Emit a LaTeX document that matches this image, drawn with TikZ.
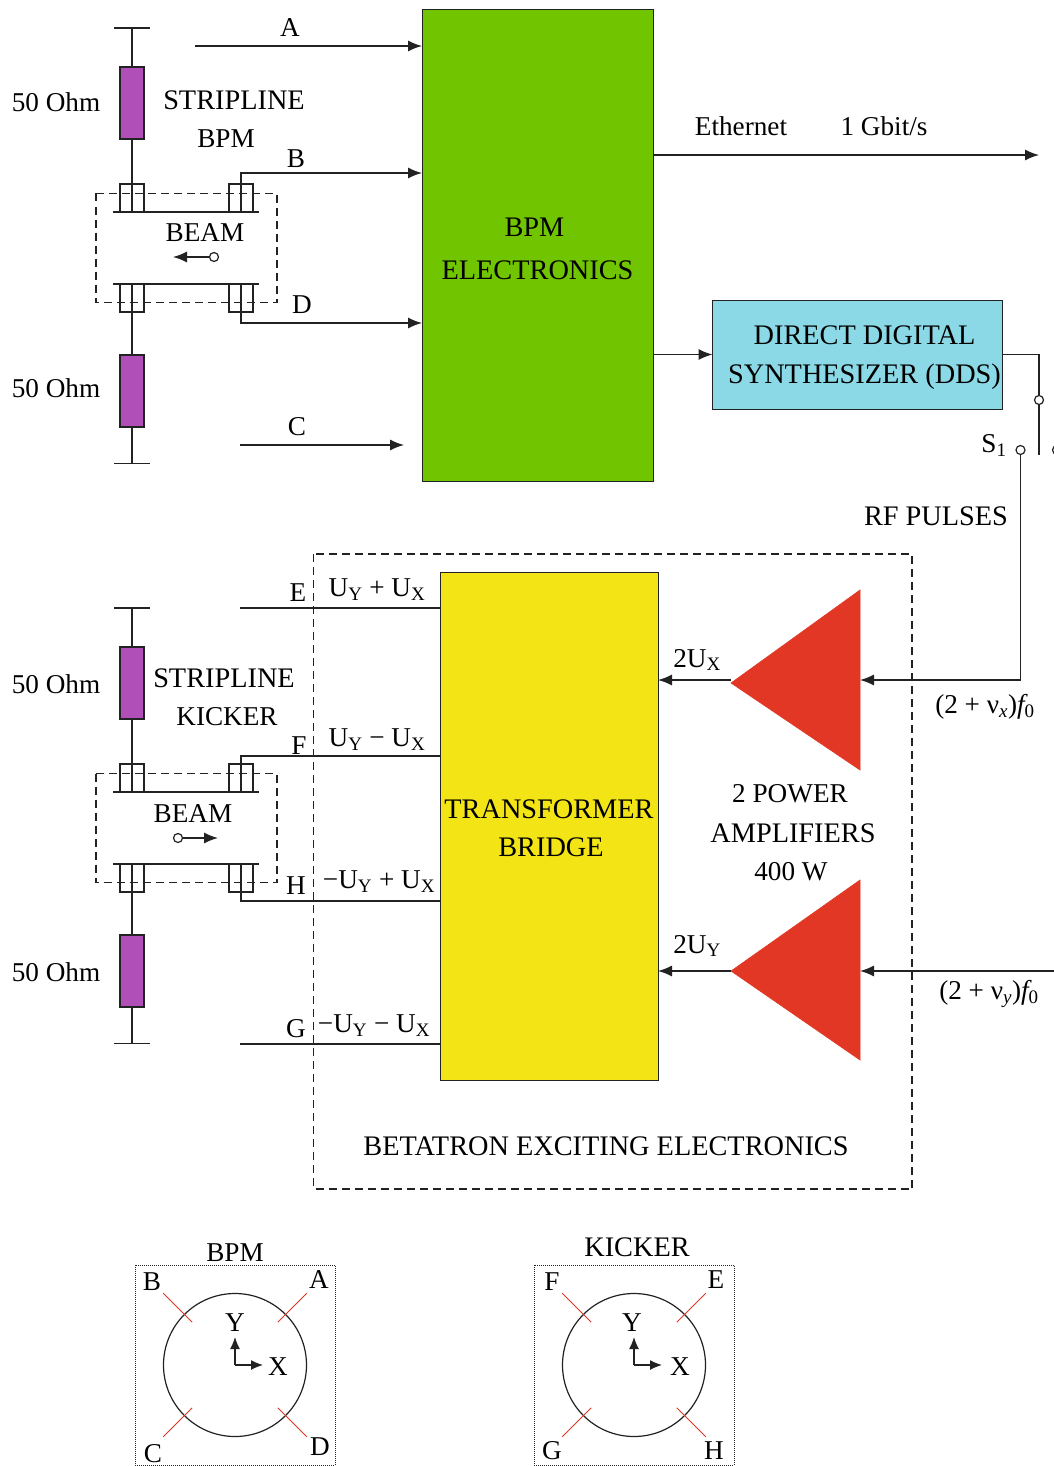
\documentclass[tikz,border=0pt]{standalone}
\usepackage{fontspec}
\setmainfont{Liberation Serif}
\usepackage{tikz}
\usetikzlibrary{arrows.meta}

\definecolor{bpmgreen}{HTML}{70C400}
\definecolor{ddscyan}{HTML}{8BD9E6}
\definecolor{bridgeyellow}{HTML}{F2E415}
\definecolor{ampred}{HTML}{E23724}
\definecolor{respurple}{HTML}{B04FB8}
\definecolor{linegray}{HTML}{222222}

\newcommand{\lift}[1]{\rule{0pt}{#1pt}}
\newcommand{\capsize}{\fontsize{28.3}{33}\selectfont}

\tikzset{
    block/.style={draw=linegray,line width=1pt,align=center,inner sep=0pt,outer sep=0pt,font=\capsize},
    resistor/.style={draw=linegray,line width=1.2pt,fill=respurple,minimum width=24pt,minimum height=72pt,inner sep=0pt,outer sep=0pt},
    electrode/.style={draw=linegray,line width=1.3pt,minimum width=24pt,minimum height=28pt,inner sep=0pt,outer sep=0pt},
    contact/.style={circle,draw=linegray,line width=1.2pt,fill=white,minimum size=9pt,inner sep=0pt,outer sep=0pt},
    amplifier/.style={fill=ampred,draw=ampred,line width=.6pt},
    wire/.style={draw=linegray,line width=1.3pt},
    frame/.style={draw=linegray,line width=1.2pt,dash pattern=on 8pt off 5pt},
    pickup/.style={draw=ampred,line width=1pt},
    lbl/.style={inner sep=0pt,yshift=-1pt},
    wide/.style={lbl,font=\capsize}
}

\begin{document}
\begin{tikzpicture}[x=1pt,y=-1pt,>={Latex[length=14pt,width=11pt]},font=\fontsize{27.2}{33}\selectfont]
    \useasboundingbox (0,0) rectangle (1054,1466);

    % Blocks:
    \node [block,fill=bpmgreen,minimum width=231pt,minimum height=471pt] (elec) at (537.5,245.5) {\lift{26}\kern-6pt BPM\\[10pt]ELECTRONICS};
    \node [block,fill=ddscyan,minimum width=290pt,minimum height=109pt] (dds) at (857.5,354.5) {\lift{26}\kern14pt DIRECT DIGITAL\\[6pt]\kern14pt SYNTHESIZER (DDS)};
    \node [block,fill=bridgeyellow,minimum width=218pt,minimum height=508pt] (bridge) at (549,826) {\lift{24}TRANSFORMER\\[5pt]\kern4pt BRIDGE};

    % The two striplines are the same, only shifted down:
    \foreach \n/\dy in {bpm/0,kick/580}{%
        \begin{scope}[yshift=-\dy pt]
        \coordinate (top\n) at (132,28);
        \coordinate (bot\n) at (132,463.5);
        \node [resistor] (rtop\n) at (132,103) {};
        \node [resistor] (rbot\n) at (132,391) {};
        \node [electrode] (etl\n) at (132,198) {};
        \node [electrode] (etr\n) at (241,198) {};
        \node [electrode] (ebl\n) at (132,298) {};
        \node [electrode] (ebr\n) at (241,298) {};
        \coordinate (wtl\n) at (113,212);
        \coordinate (wtr\n) at (259,212);
        \coordinate (wbl\n) at (113,284);
        \coordinate (wbr\n) at (259,284);
        \draw [wire] ([xshift=-18pt]top\n) -- ([xshift=18pt]top\n);
        \draw [wire] ([xshift=-18pt]bot\n) -- ([xshift=18pt]bot\n);
        \draw [wire] (top\n) -- (rtop\n.north);
        \draw [wire] (rtop\n.south) -- (etl\n.south);
        \draw [wire] (ebl\n.north) -- (rbot\n.north);
        \draw [wire] (rbot\n.south) -- (bot\n);
        \draw [wire] (etr\n.north) -- (etr\n.south);
        \draw [wire] (ebr\n.north) -- (ebr\n.south);
        \draw [wire] (wtl\n) -- (wtr\n);
        \draw [wire] (wbl\n) -- (wbr\n);
        \draw [frame] (96,193.5) rectangle (277,302.5);
        \end{scope}
    }
    \foreach \m/\ypos in {a/101.5,b/387.5,c/683.5,d/971}{%
        \node [lbl] (ohm\m) at (56,\ypos) {50 Ohm};
    }

    % Signals of the BPM:
    \coordinate (a) at (195,46);
    \coordinate (c) at (240,445);
    \coordinate (cend) at (404,445);
    \coordinate (bin) at (422,173);
    \coordinate (din) at (422,323);
    \draw [wire,->] (a) -- (a -| elec.west);
    \draw [wire,->] (etrbpm.north) |- (bin);
    \draw [wire,->] (ebrbpm.south) |- (din);
    \draw [wire,->] (c) -- (cend);
    \node [lbl] (la) at (290,27) {A};
    \node [lbl] (lb) at (296,158) {B};
    \node [lbl] (ld) at (302,304) {D};
    \node [lbl] (lc) at (297,426) {C};
    \node [wide] (strip) at (234,99) {STRIPLINE};
    \node [lbl] (bpm) at (226,138) {BPM};
    \node [lbl] (beama) at (205,232) {BEAM};
    \node [contact] (ca) at (214,257) {};
    \coordinate (caend) at (173,257);
    \draw [wire,->] (ca) -- (caend);

    % Ethernet and the DDS:
    \coordinate (ethout) at (1039,155);
    \draw [wire,->] (ethout -| elec.east) -- (ethout);
    \node [lbl] (eth) at (741,125) {Ethernet};
    \node [lbl] (gbit) at (884,125) {1 Gbit/s};
    \draw [wire,->] (elec.east |- dds.west) -- (dds.west);

    % The switch:
    \node [contact] (sa) at (1039,400) {};
    \node [contact] (sb) at (1020.5,450) {};
    \node [contact] (sc) at (1057,450) {};
    \coordinate (sopen) at (1039,455);
    \draw [wire] (dds.east) -| (sa.north);
    \draw [wire] (sa.south) -- (sopen);
    \node [lbl] (sone) at (994,444) {S\textsubscript{1}};
    \node [wide] (rf) at (936,515) {RF PULSES};

    % Betatron exciting electronics:
    \draw [frame] (313.5,554) rectangle (912,1189);
    \path [amplifier] (731,683) coordinate (ampx) -- (860,590) -- (860,770) -- cycle;
    \path [amplifier] (731,971) coordinate (ampy) -- (860,880) -- (860,1060) -- cycle;
    \coordinate (xin) at (860,680);
    \coordinate (yin) at (860,971);
    \coordinate (yfree) at (1054,971);
    \draw [wire,->] (sb.south) |- (xin);
    \draw [wire,->] (yfree) -- (yin);
    \draw [wire,->] (ampx |- xin) -- (bridge.east |- xin);
    \draw [wire,->] (ampy) -- (ampy -| bridge.east);
    \node [lbl] (ux) at (697,659) {2U\textsubscript{X}};
    \node [lbl] (uy) at (697,945) {2U\textsubscript{Y}};
    \node [lbl] (nux) at (985,706) {(2 + ν\textsubscript{\emph{x}}){\itshape f}\textsubscript{0}};
    \node [lbl] (nuy) at (989,993) {(2 + ν\textsubscript{\emph{y}}){\itshape f}\textsubscript{0}};
    \node [lbl] (pa) at (790,793) {2 POWER};
    \node [wide] (pb) at (793,832) {AMPLIFIERS};
    \node [lbl] (pc) at (791,871) {400 W};
    \node [wide] (bee) at (606,1145) {BETATRON EXCITING ELECTRONICS};

    % Signals of the kicker:
    \coordinate (e) at (240,608);
    \coordinate (g) at (240,1044);
    \coordinate (fin) at (440,756);
    \coordinate (hin) at (440,901);
    \draw [wire] (e) -- (e -| bridge.west);
    \draw [wire] (g) -- (g -| bridge.west);
    \draw [wire] (etrkick.north) |- (fin);
    \draw [wire] (ebrkick.south) |- (hin);
    \node [lbl] (le) at (298,592) {E};
    \node [lbl] (lf) at (299,745) {F};
    \node [lbl] (lh) at (296,885) {H};
    \node [lbl] (lg) at (296,1028) {G};
    \node [lbl] (ue) at (377,589) {U\textsubscript{Y} + U\textsubscript{X}};
    \node [lbl] (uf) at (377,739) {U\textsubscript{Y} − U\textsubscript{X}};
    \node [lbl] (uh) at (379,881) {−U\textsubscript{Y} + U\textsubscript{X}};
    \node [lbl] (ug) at (374,1025) {−U\textsubscript{Y} − U\textsubscript{X}};
    \node [wide] (stripk) at (224,677) {STRIPLINE};
    \node [lbl] (kick) at (227,716) {KICKER};
    \node [lbl] (beamb) at (193,813) {BEAM};
    \node [contact] (cb) at (178,838) {};
    \coordinate (cbend) at (218,838);
    \draw [wire,->] (cb) -- (cbend);

    % Cross sections:
    \foreach \n/\cx in {secb/235,seck/634}{%
        \node [draw=linegray,line width=1pt,densely dotted,minimum size=200pt,inner sep=0pt] (box\n) at (\cx,1365) {};
        \node [circle,draw=linegray,line width=1.2pt,minimum size=143pt,inner sep=0pt] (pipe\n) at (\cx,1365) {};
        \coordinate (o\n) at (\cx,1365);
        \draw [wire,->,>={Latex[length=12pt,width=10pt]}] (o\n) -- ++(28,0);
        \draw [wire,->,>={Latex[length=12pt,width=10pt]}] (o\n) -- ++(0,-28);
        \foreach \a in {45,135,225,315}{%
            \draw [pickup] (o\n) ++(\a:60.5) -- ++(\a:41);
        }
    }
    \node [lbl] (tb) at (235,1252) {BPM};
    \node [lbl] (sa1) at (319,1279) {A};
    \node [lbl] (sb1) at (152,1281) {B};
    \node [lbl] (sc1) at (153,1453) {C};
    \node [lbl] (sd1) at (320,1446) {D};
    \node [lbl] (yb) at (235,1322) {Y};
    \node [lbl] (xb) at (278,1366) {X};
    \node [wide] (tk) at (637,1246) {KICKER};
    \node [lbl] (se1) at (716,1279) {E};
    \node [lbl] (sf1) at (552,1281) {F};
    \node [lbl] (sg1) at (552,1450) {G};
    \node [lbl] (sh1) at (714,1450) {H};
    \node [lbl] (yk) at (632,1322) {Y};
    \node [lbl] (xk) at (680,1366) {X};
\end{tikzpicture}
\end{document}
